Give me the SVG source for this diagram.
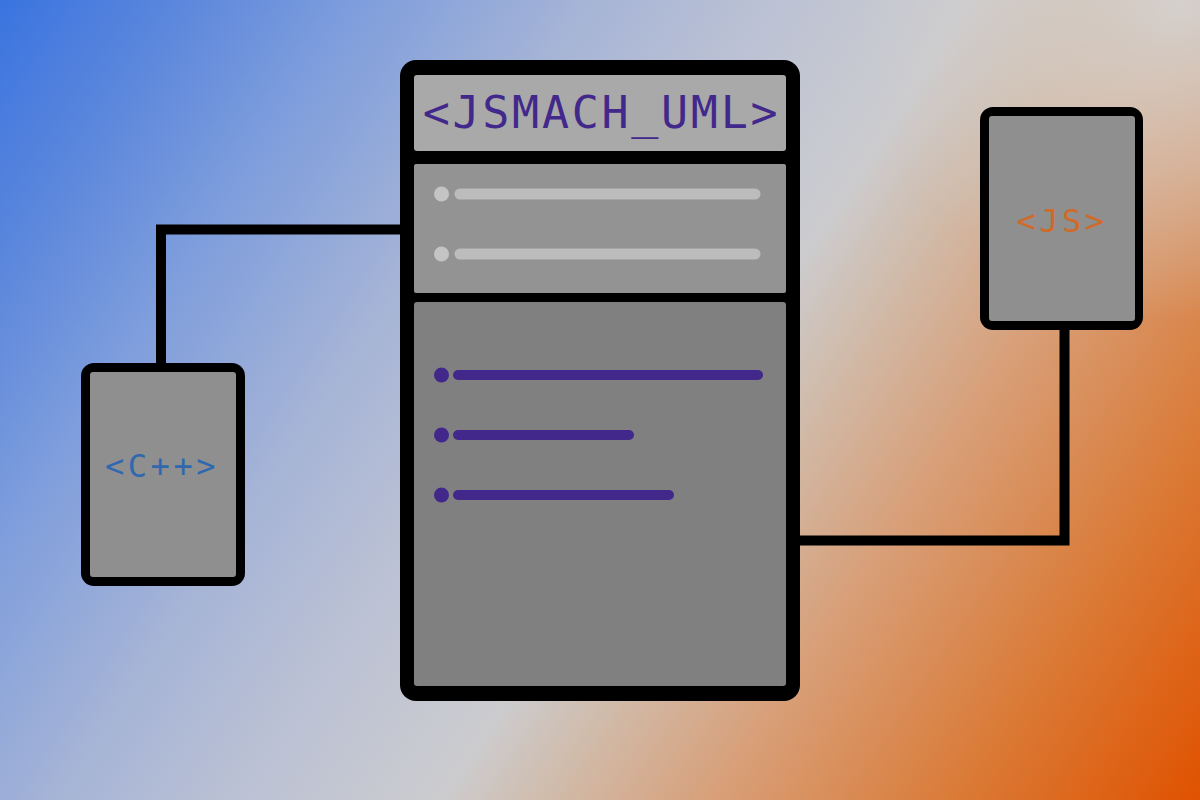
<svg xmlns="http://www.w3.org/2000/svg" width="1200" height="800" viewBox="0 0 1200 800">
  <defs>
    <linearGradient id="bg" gradientUnits="userSpaceOnUse" x1="0" y1="0" x2="1200" y2="800">
      <stop offset="0" stop-color="#3a74e0"/>
      <stop offset="0.1" stop-color="#5a86dc"/>
      <stop offset="0.21" stop-color="#7f9edc"/>
      <stop offset="0.34" stop-color="#a6b4d6"/>
      <stop offset="0.45" stop-color="#bcc2d4"/>
      <stop offset="0.56" stop-color="#cccccf"/>
      <stop offset="0.62" stop-color="#d0bcac"/>
      <stop offset="0.72" stop-color="#d89f78"/>
      <stop offset="0.86" stop-color="#da7a36"/>
      <stop offset="1" stop-color="#e05200"/>
    </linearGradient>
    <radialGradient id="tr" gradientUnits="userSpaceOnUse" cx="1180" cy="0" r="320">
      <stop offset="0" stop-color="#d4d2d0" stop-opacity="0.95"/>
      <stop offset="0.5" stop-color="#d4d0cc" stop-opacity="0.5"/>
      <stop offset="1" stop-color="#d4d0cc" stop-opacity="0"/>
    </radialGradient>
    <style>
      .frame { fill: #000; }
      .conn { fill: none; stroke: #000; stroke-width: 10; stroke-linejoin: miter; stroke-linecap: butt; }
      .mono { font-family: "DejaVu Sans Mono", "Liberation Mono", monospace; text-anchor: middle; }
      .bar-light { stroke: #bcbcbc; stroke-width: 11; stroke-linecap: round; }
      .dot-light { fill: #c4c4c4; }
      .bar-purple { stroke: #42288a; stroke-width: 10; stroke-linecap: round; }
      .dot-purple { fill: #42288a; }
      .side { fill: #8f8f8f; }
    </style>
  </defs>

  <rect x="0" y="0" width="1200" height="800" fill="url(#bg)"/>
  <rect x="700" y="0" width="500" height="340" fill="url(#tr)"/>

  <g id="connectors">
    <polyline class="conn" points="402,229.5 161,229.5 161,365"/>
    <polyline class="conn" points="798,540.5 1064.5,540.5 1064.5,328"/>
  </g>

  <g id="node-main">
    <rect class="frame" x="400" y="60" width="400" height="641" rx="16"/>
    <rect x="414" y="75" width="372" height="76" rx="3" fill="#a9a9a9"/>
    <rect x="414" y="164" width="372" height="129" rx="2" fill="#939393"/>
    <rect x="414" y="302" width="372" height="384" rx="3" fill="#808080"/>
    <text class="mono" x="601.5" y="127.5" font-size="45" letter-spacing="2.7" fill="#42288a">&lt;JSMACH_UML&gt;</text>
    <circle class="dot-light" cx="441.5" cy="194" r="7.5"/>
    <line class="bar-light" x1="460" y1="194" x2="755" y2="194"/>
    <circle class="dot-light" cx="441.5" cy="254" r="7.5"/>
    <line class="bar-light" x1="460" y1="254" x2="755" y2="254"/>
    <circle class="dot-purple" cx="441.5" cy="375" r="7.5"/>
    <line class="bar-purple" x1="458" y1="375" x2="758" y2="375"/>
    <circle class="dot-purple" cx="441.5" cy="435" r="7.5"/>
    <line class="bar-purple" x1="458" y1="435" x2="629" y2="435"/>
    <circle class="dot-purple" cx="441.5" cy="495" r="7.5"/>
    <line class="bar-purple" x1="458" y1="495" x2="669" y2="495"/>
  </g>

  <g id="node-cpp">
    <rect class="frame" x="81" y="363" width="164" height="223" rx="13"/>
    <rect class="side" x="90" y="372" width="146" height="205" rx="3"/>
    <text class="mono" x="162" y="477" font-size="32" letter-spacing="3.5" fill="#3068b0">&lt;C++&gt;</text>
  </g>

  <g id="node-js">
    <rect class="frame" x="980" y="107" width="163" height="223" rx="13"/>
    <rect class="side" x="989" y="116" width="146" height="205" rx="3"/>
    <text class="mono" x="1062" y="232" font-size="32" letter-spacing="3.5" fill="#d06a28">&lt;JS&gt;</text>
  </g>
</svg>
